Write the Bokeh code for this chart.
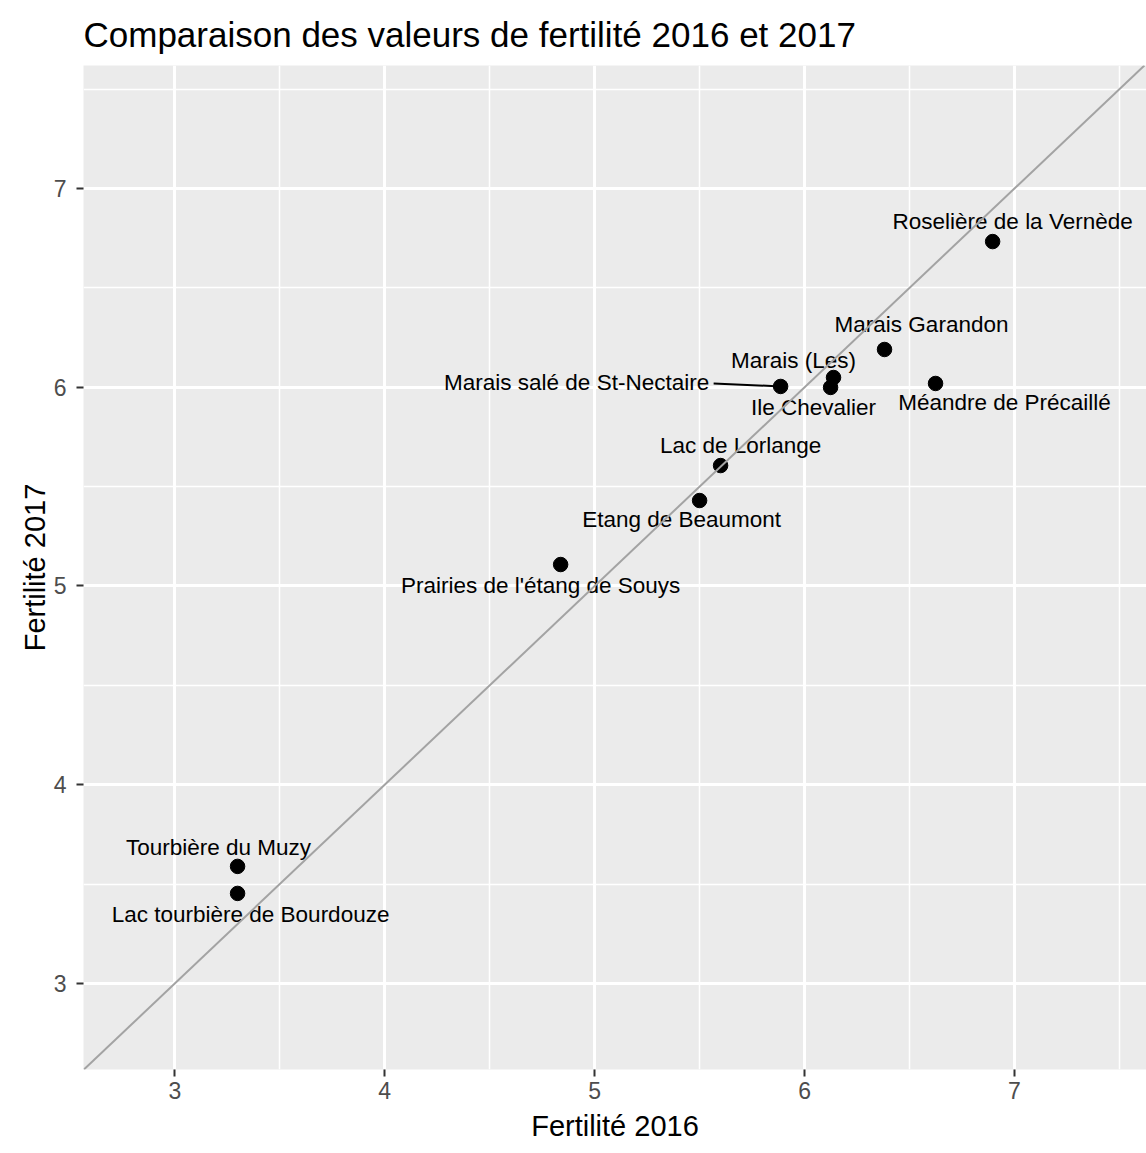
from bokeh.plotting import figure
from bokeh.models import Range1d, FixedTicker, Slope, ColumnDataSource
from bokeh.core.properties import value
from bokeh.embed import file_html
from bokeh.resources import INLINE

# ---- data ----
sites = [
    "Roselière de la Vernède",
    "Marais Garandon",
    "Méandre de Précaillé",
    "Marais (Les)",
    "Ile Chevalier",
    "Marais salé de St-Nectaire",
    "Lac de Lorlange",
    "Etang de Beaumont",
    "Prairies de l'étang de Souys",
    "Tourbière du Muzy",
    "Lac tourbière de Bourdouze",
]
fert_2016 = [6.896, 6.381, 6.624, 6.138, 6.124, 5.886, 5.600, 5.500, 4.838, 3.299, 3.299]
fert_2017 = [6.733, 6.190, 6.019, 6.049, 5.999, 6.004, 5.606, 5.430, 5.108, 3.589, 3.453]

x_ticks = [3, 4, 5, 6, 7]
y_ticks = [3, 4, 5, 6, 7]
minor_ticks = [2.5, 3.5, 4.5, 5.5, 6.5, 7.5]

title_text = "Comparaison des valeurs de fertilité  2016 et 2017"
x_title = "Fertilité 2016"
y_title = "Fertilité 2017"

# ---- label placement (screen pixel offsets, style only) ----
label_dx = [20, 37, 69, -40, -17, -204, 20, -18, -20, -19, 13]
label_dy = [-20, -25, 19, -17, 20, -4, -20, 19, 21, -19, 21]

FONT = "Liberation Sans"
W, H = 1146, 1153
BL, BR, BT, BB = 83, 0, 65, 84
x0, x1 = 2.565, 7.629
y0, y1 = 2.567, 7.619

p = figure(width=W, height=H, output_backend="svg", toolbar_location=None,
           x_range=Range1d(x0, x1), y_range=Range1d(y0, y1),
           min_border_left=BL, min_border_right=BR, min_border_top=BT, min_border_bottom=BB,
           title=title_text)

p.background_fill_color = "#EBEBEB"
p.border_fill_color = "white"
p.outline_line_color = None

p.title.text_font = FONT
p.title.text_font_size = "35px"
p.title.text_font_style = "normal"
p.title.text_color = "black"
p.title.align = "left"
p.title.standoff = 23

p.xaxis.ticker = FixedTicker(ticks=x_ticks, minor_ticks=minor_ticks)
p.yaxis.ticker = FixedTicker(ticks=y_ticks, minor_ticks=minor_ticks)

for ax in (p.xaxis[0], p.yaxis[0]):
    ax.axis_line_color = None
    ax.major_tick_line_color = "#333333"
    ax.major_tick_line_width = 2
    ax.major_tick_out = 7
    ax.major_tick_in = 0
    ax.minor_tick_line_color = None
    ax.major_label_text_font = FONT
    ax.major_label_text_font_size = "23px"
    ax.major_label_text_color = "#4D4D4D"
    ax.axis_label_text_font = FONT
    ax.axis_label_text_font_size = "29px"
    ax.axis_label_text_font_style = "normal"
    ax.axis_label_text_color = "black"

p.xaxis.axis_label = x_title
p.yaxis.axis_label = y_title
p.xaxis.major_label_standoff = 5
p.xaxis.axis_label_standoff = 8
p.yaxis.major_label_standoff = 10
p.yaxis.axis_label_standoff = 0

p.grid.grid_line_color = "white"
p.grid.grid_line_width = 3
p.grid.minor_grid_line_color = "white"
p.grid.minor_grid_line_width = 1.5

# identity line
p.add_layout(Slope(gradient=1, y_intercept=0, line_color="#A3A3A3", line_width=2))

# leader line for the repelled label (starts at the label's right edge)
px_per_x = (W - BL - BR) / (x1 - x0)
px_per_y = (H - BT - BB) / (y1 - y0)
i = sites.index("Marais salé de St-Nectaire")
p.segment(x0=[fert_2016[i] - 67 / px_per_x], y0=[fert_2017[i] + 3 / px_per_y],
          x1=[fert_2016[i]], y1=[fert_2017[i]], line_color="black", line_width=2)

src = ColumnDataSource(dict(x=fert_2016, y=fert_2017, name=sites, dx=label_dx, dy=label_dy))
p.scatter("x", "y", source=src, size=14.5, color="black")
p.text("x", "y", text="name", source=src, x_offset="dx", y_offset="dy",
       text_align="center", text_baseline="alphabetic",
       text_font=value(FONT), text_font_size="22.5px", text_color="black")

open("out.html", "w").write(file_html(p, INLINE))
